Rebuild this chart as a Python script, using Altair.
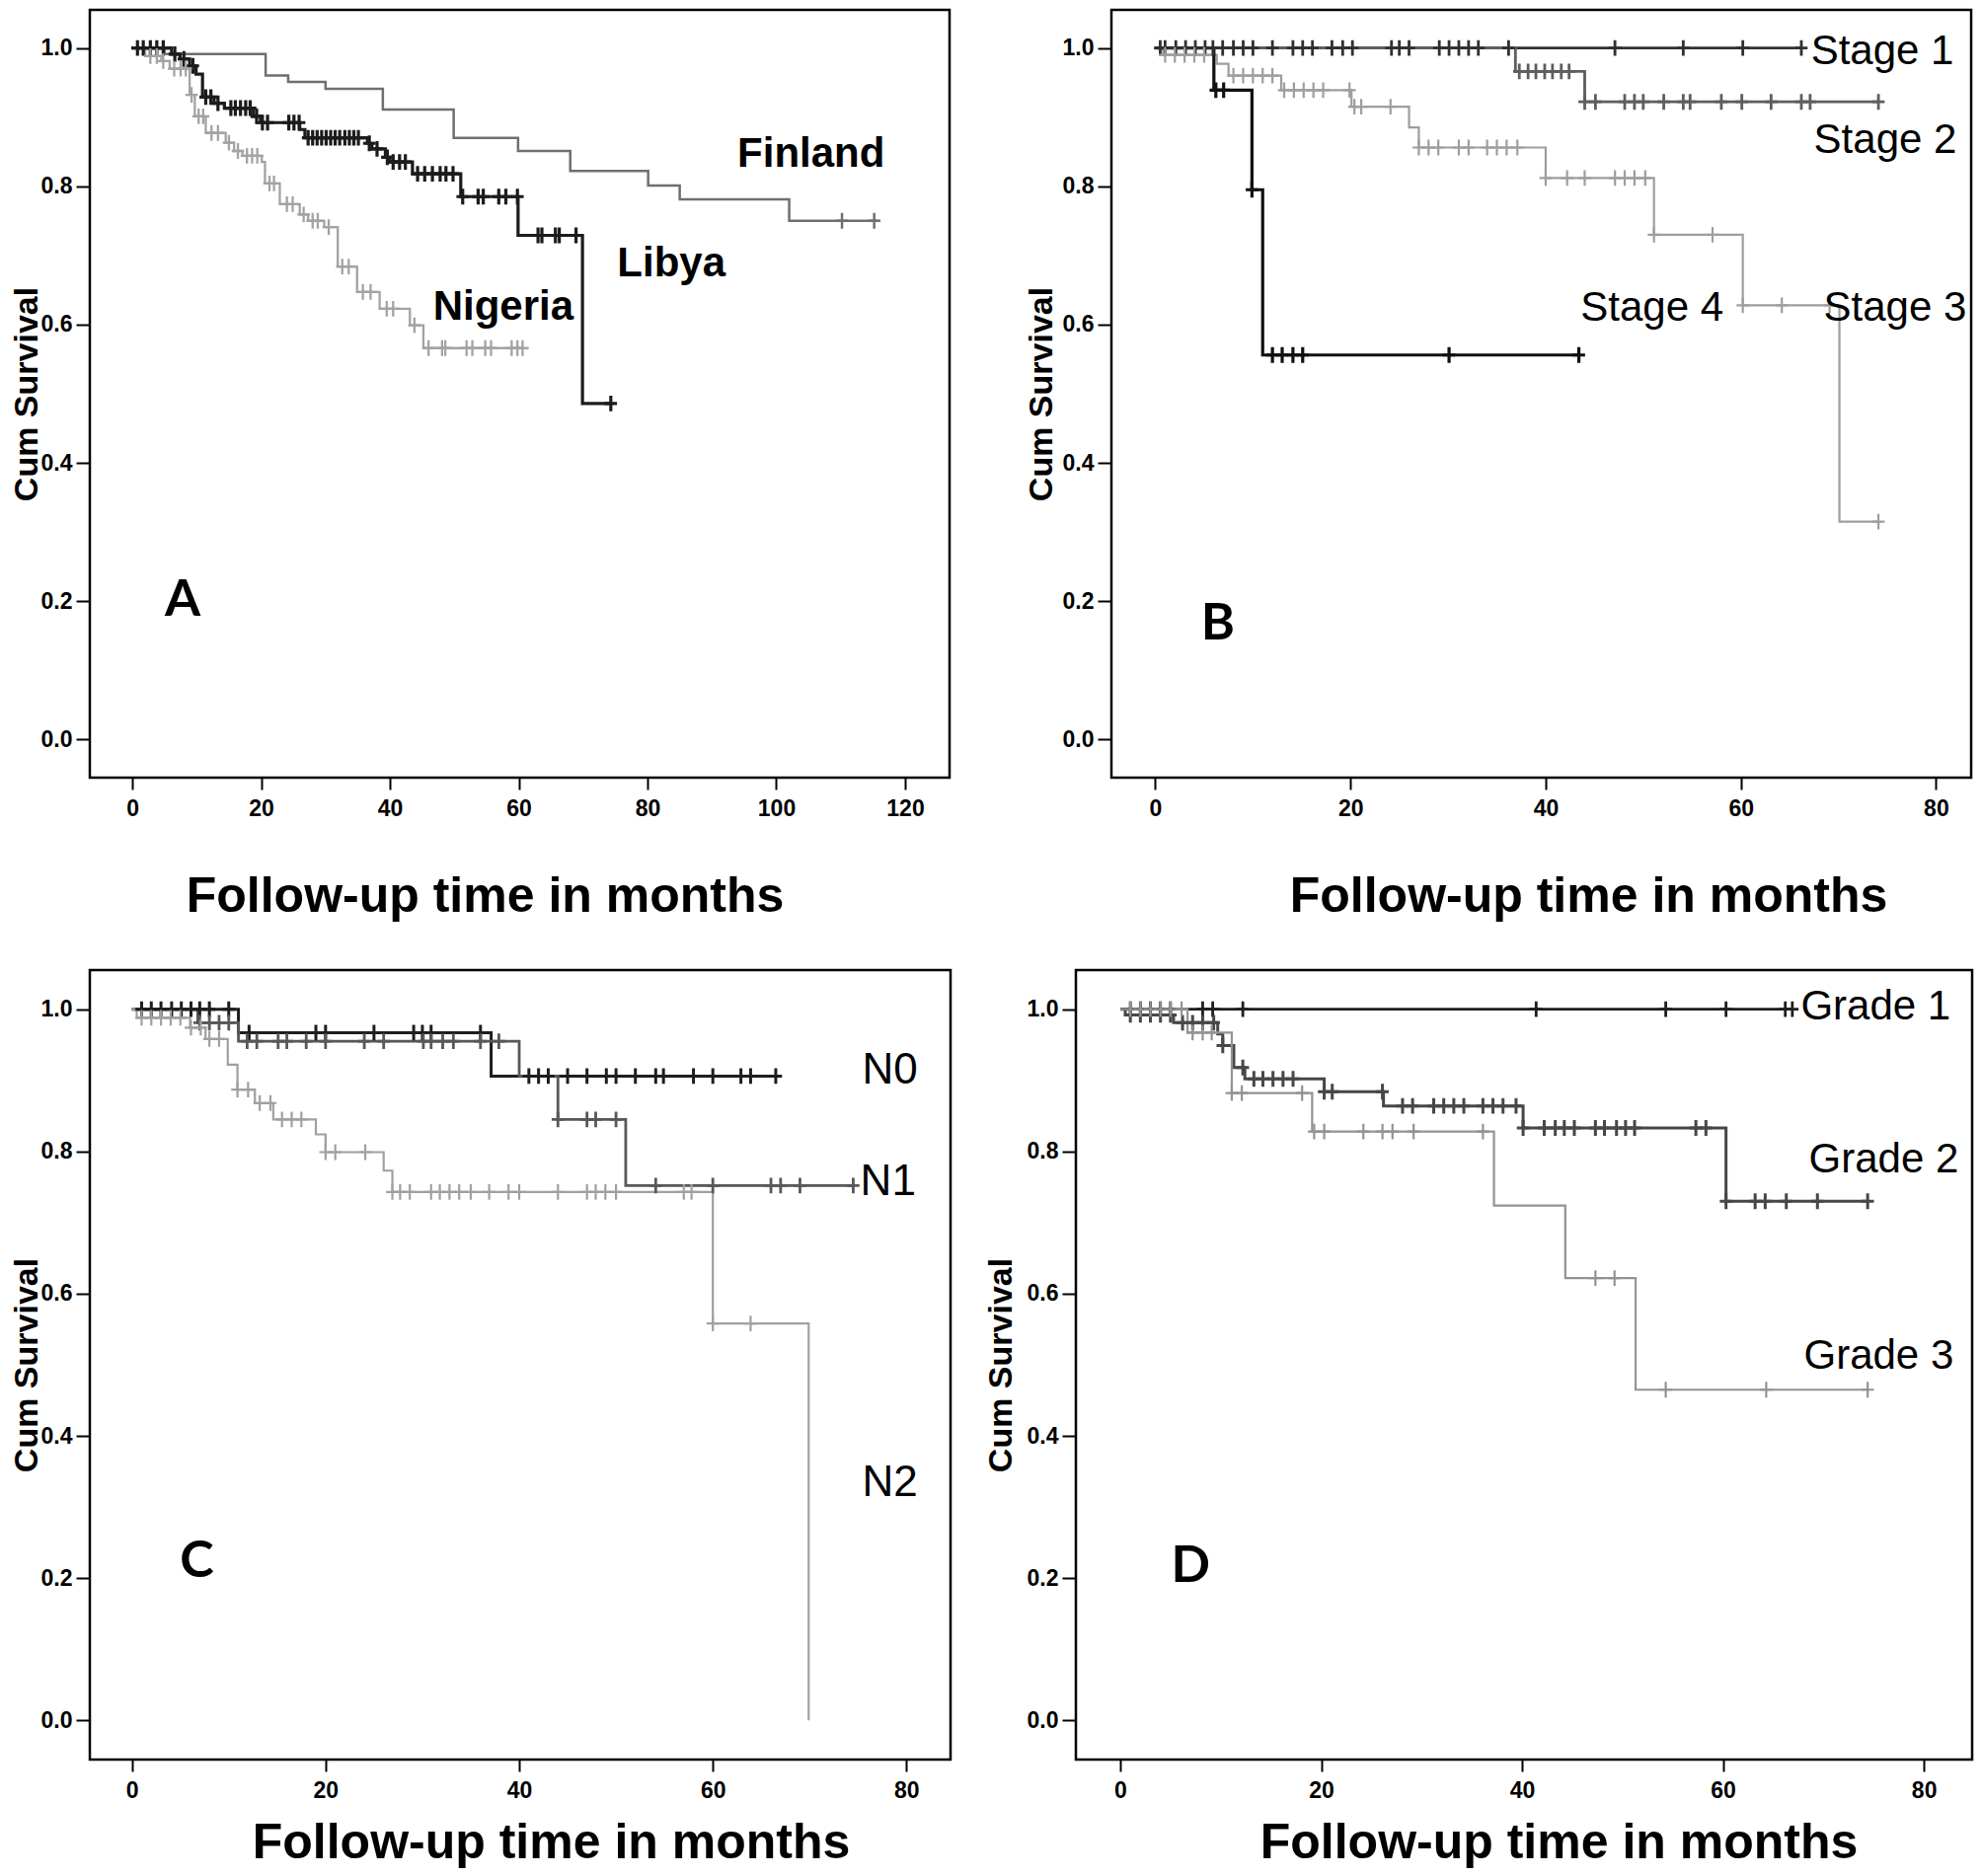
import altair as alt
import pandas as pd

# ---------------- Panel A : country ----------------
fin_t = [0, 5, 20.7, 24.2, 30, 38.9, 49.9, 59.9, 68, 80.1, 85, 102]
fin_s = [1.0, 0.991, 0.960, 0.951, 0.941, 0.911, 0.870, 0.851, 0.822, 0.801, 0.781, 0.750]
fin_end = 115.8
fin_cens = [110.2, 115.2]

lib_t = [0, 6.1, 7.4, 8.9, 9.9, 10.9, 12.7, 14.3, 18.8, 19.9, 26.0, 26.8, 36.5, 37.2, 39.3, 40.0, 43.5, 51.0, 59.9, 69.9]
lib_s = [1.0, 0.991, 0.984, 0.974, 0.962, 0.929, 0.920, 0.913, 0.901, 0.892, 0.882, 0.870, 0.862, 0.854, 0.842, 0.835, 0.818, 0.785, 0.729, 0.486]
lib_end = 74.3
lib_cens = [0.8, 1.7, 2.8, 3.8, 4.8, 6.6, 8.0, 9.4, 11.4, 12.2, 13.3, 15.3, 16.0, 16.8, 17.6, 18.3,
            19.3, 20.2, 21.0, 24.3, 25.1, 25.9, 27.3, 28.0, 28.7, 29.4, 30.1, 30.8, 31.5, 32.2, 33.0,
            33.7, 34.4, 35.1, 36.8, 38.0, 39.6, 40.5, 41.5, 42.4, 44.3, 45.4, 46.6, 47.8, 48.7, 49.8,
            51.3, 53.7, 54.5, 56.9, 58.0, 59.8, 63.0, 63.6, 65.7, 66.3, 68.9, 74.3]

nig_t = [0, 2.0, 4.5, 5.8, 8.9, 9.7, 11.4, 14.5, 15.8, 17.1, 20.1, 20.6, 22.9, 26.0, 27.3, 29.8, 31.9, 34.9, 38.4, 43.1, 45.2]
nig_s = [1.0, 0.988, 0.981, 0.970, 0.932, 0.901, 0.877, 0.863, 0.851, 0.844, 0.835, 0.804, 0.774, 0.759, 0.750, 0.741, 0.684, 0.647, 0.623, 0.599, 0.566]
nig_end = 60.6
nig_cens = [2.8, 3.8, 4.8, 6.5, 7.5, 8.3, 9.2, 10.3, 11.0, 12.3, 13.3, 15.0, 16.4, 17.8, 18.6, 19.4,
            21.3, 22.0, 24.0, 24.9, 26.6, 28.0, 28.8, 30.5, 32.6, 33.6, 35.8, 37.0, 39.5, 40.5, 43.8,
            46.0, 48.1, 48.6, 51.9, 52.8, 54.8, 55.7, 58.9, 59.8, 60.6]

# ---------------- Panel B : stage ----------------
st1_t = [0]
st1_s = [1.0]
st1_end = 66.2
st1_cens = [0.5, 1.0, 2.1, 3.1, 4.1, 5.1, 5.9, 6.9, 8.0, 9.0, 10.0, 12.0, 14.1, 15.1, 16.1, 18.1, 19.2,
            20.2, 24.2, 25.0, 26.0, 29.1, 30.1, 31.1, 32.1, 33.1, 36.2, 47.1, 54.1, 60.2, 66.2]

st2_t = [0, 36.9, 44.0]
st2_s = [1.0, 0.966, 0.922]
st2_end = 74.1
st2_cens = [37.3, 38.2, 39.0, 39.9, 40.7, 41.6, 42.4, 44.0, 45.1, 48.1, 49.1, 50.0, 52.1, 54.1, 54.8,
            58.0, 60.1, 63.1, 66.2, 67.1, 74.1]

st3_t = [0, 0.8, 6.3, 7.5, 12.9, 20.1, 26.0, 27.0, 40.0, 51.1, 60.2, 70.1]
st3_s = [1.0, 0.990, 0.977, 0.960, 0.939, 0.915, 0.885, 0.856, 0.812, 0.730, 0.628, 0.315]
st3_end = 74.1
st3_cens = [1.0, 2.0, 3.0, 4.0, 5.0, 8.0, 9.0, 10.0, 11.0, 12.0, 13.2, 14.2, 15.2, 16.2, 17.2, 19.9,
            20.4, 21.1, 24.1, 27.0, 28.0, 29.0, 31.1, 32.1, 34.0, 35.0, 36.0, 37.1, 40.0, 42.2, 44.0,
            47.1, 48.1, 49.1, 50.2, 51.1, 57.1, 60.2, 64.2, 69.1, 74.1]

st4_t = [0, 6.0, 9.9, 11.0]
st4_s = [1.0, 0.939, 0.795, 0.556]
st4_end = 43.4
st4_cens = [6.2, 7.0, 9.9, 12.0, 13.0, 14.1, 15.1, 30.1, 43.4]

# ---------------- Panel C : nodal status ----------------
n0_t = [0, 11.0, 37.1]
n0_s = [1.0, 0.967, 0.906]
n0_end = 66.5
n0_cens = [1.0, 2.0, 3.0, 4.1, 5.1, 6.1, 7.0, 8.0, 10.0, 12.1, 19.0, 20.0, 25.0, 29.1, 30.0, 30.9,
           36.0, 41.0, 42.0, 43.0, 45.0, 47.0, 49.0, 50.0, 52.0, 54.1, 54.9, 58.0, 60.0, 62.9, 63.9, 66.5]

n1_t = [0, 6.8, 11.0, 40.0, 44.0, 51.0]
n1_s = [1.0, 0.981, 0.955, 0.906, 0.845, 0.752]
n1_end = 74.5
n1_cens = [7.0, 8.0, 9.0, 10.0, 11.9, 12.9, 15.1, 16.0, 18.0, 20.0, 24.0, 26.0, 30.1, 30.9, 32.1, 33.2,
           36.0, 37.9, 44.0, 47.0, 47.9, 50.0, 54.1, 60.0, 66.0, 67.0, 69.0, 74.5]

n2_t = [0, 0.5, 6.0, 7.6, 9.9, 10.9, 12.7, 14.6, 19.0, 20.0, 26.0, 26.9, 60.0, 69.9]
n2_s = [1.0, 0.988, 0.974, 0.958, 0.922, 0.887, 0.868, 0.845, 0.824, 0.799, 0.773, 0.743, 0.558, 0.0]
n2_end = 69.9
n2_cens = [1.0, 2.0, 3.0, 4.0, 5.0, 6.1, 7.1, 8.0, 9.0, 10.9, 12.0, 13.2, 14.3, 15.5, 16.5, 17.5, 20.0,
           21.0, 24.1, 26.9, 27.7, 28.7, 30.9, 31.8, 32.8, 33.8, 35.0, 36.9, 38.9, 40.0, 44.0, 47.0,
           47.9, 48.9, 50.0, 57.0, 57.8, 60.0, 63.9]

# ---------------- Panel D : grade ----------------
g1_t = [0]
g1_s = [1.0]
g1_end = 67.0
g1_cens = [1.0, 2.0, 3.0, 4.0, 5.0, 8.2, 9.2, 12.2, 41.4, 54.3, 60.3, 66.2, 66.9]

g2_t = [0, 0.5, 5.3, 9.7, 10.2, 11.3, 12.4, 20.3, 26.2, 40.1, 60.3]
g2_s = [1.0, 0.992, 0.981, 0.965, 0.949, 0.918, 0.902, 0.884, 0.864, 0.833, 0.730]
g2_end = 74.4
g2_cens = [1.0, 2.0, 3.0, 4.0, 5.0, 6.2, 7.2, 8.2, 9.3, 10.2, 12.2, 13.3, 14.2, 15.2, 16.2, 17.2, 20.3,
           21.1, 26.1, 28.1, 29.1, 31.2, 32.2, 33.2, 34.2, 36.1, 37.1, 38.1, 39.4, 40.1, 42.2, 43.3,
           44.2, 45.2, 47.3, 48.2, 49.4, 50.3, 51.2, 57.3, 58.3, 60.3, 63.2, 64.2, 66.3, 69.4, 74.4]

g3_t = [0, 6.7, 11.1, 19.1, 37.2, 44.3, 51.3]
g3_s = [1.0, 0.967, 0.882, 0.828, 0.724, 0.622, 0.465]
g3_end = 74.4
g3_cens = [1.0, 2.0, 3.0, 4.0, 5.0, 6.1, 7.2, 8.2, 9.1, 11.1, 12.1, 18.1, 19.3, 20.3, 24.2, 26.1, 27.1,
           29.2, 36.1, 47.3, 49.2, 54.3, 64.3, 74.4]

# ---------------- labels ----------------
labA_text = ["Finland", "Libya", "Nigeria"]
labA_t = [105.4, 83.7, 57.6]
labA_s = [0.847, 0.688, 0.625]

labB_text = ["Stage 1", "Stage 2", "Stage 4", "Stage 3"]
labB_t = [74.5, 74.8, 50.9, 75.8]
labB_s = [0.995, 0.867, 0.624, 0.624]

labC_text = ["N0", "N1", "N2"]
labC_t = [78.3, 78.1, 78.3]
labC_s = [0.913, 0.757, 0.334]

labD_text = ["Grade 1", "Grade 2", "Grade 3"]
labD_t = [75.2, 76.0, 75.5]
labD_s = [1.004, 0.788, 0.513]

letters = ["A", "B", "C", "D"]
letter_t = [7.8, 6.4, 6.7, 7.0]
letter_s = [0.2015, 0.167, 0.224, 0.2175]

X_TITLE = "Follow-up time in months"
Y_TITLE = "Cum Survival"
FONT = "Liberation Sans"


def curve_rows(name, col, w, times, surv, end):
    rows = [{"series": name, "col": col, "w": w, "t": t, "s": s} for t, s in zip(times, surv)]
    if end > times[-1]:
        rows.append({"series": name, "col": col, "w": w, "t": end, "s": surv[-1]})
    return rows


def cens_rows(name, col, w, times, surv, cens):
    out = []
    for c in cens:
        v = surv[0]
        for t, s in zip(times, surv):
            if t <= c:
                v = s
        out.append({"series": name, "col": col, "w": w, "t": c, "s": v})
    return out


PLUS = "M-0.8,0L0.8,0M0,-1L0,1"


def panel(series, colors, widths, xdom, xticks, width, height, lab_text, lab_t, lab_s, lab_bold,
          lab_size, letter_idx, tx, ty, ytx):
    curves, cens = [], []
    for (name, t, s, end, c), col, w in zip(series, colors, widths):
        curves += curve_rows(name, col, w, t, s, end)
        cens += cens_rows(name, col, w, t, s, c)
    dfc = pd.DataFrame(curves)
    dfx = pd.DataFrame(cens)
    dfl = pd.DataFrame({"text": lab_text, "t": lab_t, "s": lab_s})
    dfL = pd.DataFrame({"text": [letters[letter_idx]], "t": [letter_t[letter_idx]],
                        "s": [letter_s[letter_idx]]})

    x = alt.X("t:Q", scale=alt.Scale(domain=xdom, nice=False, zero=False),
              axis=alt.Axis(values=xticks, format="d", tickSize=12, tickWidth=2,
                            labelPadding=8, labelFontSize=23, labelFontWeight="bold",
                            title=X_TITLE,
                            titleFontSize=50, titleFontWeight="bold", titleX=tx, titleY=ty,
                            titleBaseline="alphabetic", titleAlign="center"))
    y = alt.Y("s:Q", scale=alt.Scale(domain=[-0.055, 1.055], nice=False, zero=False),
              axis=alt.Axis(values=[0, 0.2, 0.4, 0.6, 0.8, 1.0], format=".1f", tickSize=14,
                            tickWidth=2, labelPadding=4, labelFontSize=23,
                            labelFontWeight="bold", title=Y_TITLE,
                            titleFontSize=34, titleFontWeight="bold", titleX=ytx,
                            titleY=height / 2, titleBaseline="top", titleAlign="center",
                            titleAngle=270))
    color = alt.Color("col:N", scale=None, legend=None)
    sw = alt.StrokeWidth("w:Q", scale=None, legend=None)

    lines = alt.Chart(dfc).mark_line(interpolate="step-after").encode(
        x=x, y=y, color=color, strokeWidth=sw, detail="series:N")
    marks = alt.Chart(dfx).mark_point(shape=PLUS, filled=False, size=250,
                                      opacity=1).encode(x=x, y=y, color=color, strokeWidth=sw)
    labs = alt.Chart(dfl).mark_text(font=FONT, fontSize=lab_size,
                                    fontWeight="bold" if lab_bold else "normal",
                                    align="center", baseline="middle", color="black").encode(
        x=x, y=y, text="text:N")
    let = alt.Chart(dfL).mark_text(font="Lato", fontSize=52, fontWeight="bold", align="center",
                                   baseline="middle", color="black").encode(
        x=x, y=y, text="text:N")
    return alt.layer(lines, marks, labs, let).properties(width=width, height=height)


A = panel([("Finland", fin_t, fin_s, fin_end, fin_cens),
           ("Libya", lib_t, lib_s, lib_end, lib_cens),
           ("Nigeria", nig_t, nig_s, nig_end, nig_cens)],
          ["#6f6f6f", "#1c1c1c", "#a3a3a3"], [2.5, 3.2, 2.3],
          [-6.6, 126.9], [0, 20, 40, 60, 80, 100, 120],
          871, 778, labA_text, labA_t, labA_s, True, 42, 0, 400, 135, -81)

B = panel([("Stage 1", st1_t, st1_s, st1_end, st1_cens),
           ("Stage 2", st2_t, st2_s, st2_end, st2_cens),
           ("Stage 3", st3_t, st3_s, st3_end, st3_cens),
           ("Stage 4", st4_t, st4_s, st4_end, st4_cens)],
          ["#303030", "#5e5e5e", "#9e9e9e", "#111111"], [2.8, 2.8, 2.2, 3.2],
          [-4.5, 83.6], [0, 20, 40, 60, 80],
          871, 778, labB_text, labB_t, labB_s, False, 42, 1, 483, 135, -88)

C = panel([("N0", n0_t, n0_s, n0_end, n0_cens),
           ("N1", n1_t, n1_s, n1_end, n1_cens),
           ("N2", n2_t, n2_s, n2_end, n2_cens)],
          ["#1e1e1e", "#585858", "#a0a0a0"], [3.0, 2.8, 2.2],
          [-4.35, 84.55], [0, 20, 40, 60, 80],
          872, 800, labC_text, labC_t, labC_s, False, 44, 2, 467, 99, -81)

D = panel([("Grade 1", g1_t, g1_s, g1_end, g1_cens),
           ("Grade 2", g2_t, g2_s, g2_end, g2_cens),
           ("Grade 3", g3_t, g3_s, g3_end, g3_cens)],
          ["#1e1e1e", "#474747", "#939393"], [2.8, 3.0, 2.2],
          [-4.42, 84.8], [0, 20, 40, 60, 80],
          908, 800, labD_text, labD_t, labD_s, False, 42, 3, 489, 99, -93)

row1 = alt.hconcat(A, B, spacing=164, bounds="flush")
row2 = alt.hconcat(C, D, spacing=127, bounds="flush")

chart = alt.vconcat(row1, row2, spacing=46).properties(padding=0).configure_view(
    stroke="black", strokeWidth=2.5
).configure_axis(
    grid=False, domain=False, tickColor="black", labelColor="black", titleColor="black",
    labelFont=FONT, titleFont=FONT
)

chart.save("out.html", embed_options={"renderer": "svg", "actions": False})
